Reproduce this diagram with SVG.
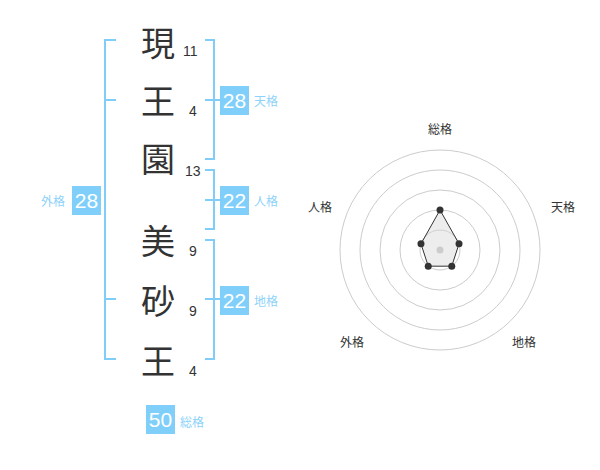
<svg xmlns="http://www.w3.org/2000/svg" width="600" height="470" viewBox="0 0 600 470">
<style>
.kanji{font-family:"Noto Sans CJK JP","Noto Sans CJK SC",sans-serif;font-size:34px;fill:#333;text-anchor:middle}
.num{font-family:"Liberation Sans",Arial,sans-serif;font-size:14px;fill:#333}
.br{fill:none;stroke:#7fcdf8;stroke-width:2}
.box{fill:#80cffb}
.bt{font-family:"Liberation Sans",Arial,sans-serif;font-size:21px;fill:#fff;text-anchor:middle}
.lab{font-family:"Noto Sans CJK JP","Noto Sans CJK SC",sans-serif;font-size:12px;fill:#8dd2fa}
.rl{font-family:"Noto Sans CJK JP","Noto Sans CJK SC",sans-serif;font-size:12px;fill:#333;text-anchor:middle}
.ring{fill:none;stroke:#ccc;stroke-width:1}
</style>
<g id="chars">
<g id="c1"><text class="kanji" x="158" y="56">現</text><text class="num" x="183" y="56">11</text></g>
<g id="c2"><text class="kanji" x="158" y="114">王</text><text class="num" x="189" y="116">4</text></g>
<g id="c3"><text class="kanji" x="158" y="172">園</text><text class="num" x="185" y="176">13</text></g>
<g id="c4"><text class="kanji" x="158" y="254">美</text><text class="num" x="189" y="256">9</text></g>
<g id="c5"><text class="kanji" x="158" y="314">砂</text><text class="num" x="189" y="316">9</text></g>
<g id="c6"><text class="kanji" x="158" y="374">王</text><text class="num" x="189" y="376">4</text></g>
</g>
<g id="connectors">
<path class="br" d="M116,40 H105 V359 H116 M105,100 H116 M105,299 H116"/>
<path class="br" d="M205,40 H214 V159 H205 M205,100 H220"/>
<path class="br" d="M205,170 H214 V229 H205 M205,200 H220"/>
<path class="br" d="M205,240 H214 V359 H205 M205,299 H220"/>
</g>
<g id="tenkaku"><rect class="box" x="220" y="86" width="29" height="29"/><text class="bt" x="234.5" y="108">28</text><text class="lab" x="254" y="106">天格</text></g>
<g id="jinkaku"><rect class="box" x="220" y="186" width="29" height="29"/><text class="bt" x="234.5" y="208">22</text><text class="lab" x="254" y="206">人格</text></g>
<g id="chikaku"><rect class="box" x="220" y="286" width="29" height="29"/><text class="bt" x="234.5" y="308">22</text><text class="lab" x="254" y="306">地格</text></g>
<g id="gaikaku"><rect class="box" x="72" y="186" width="29" height="29"/><text class="bt" x="86.5" y="208">28</text><text class="lab" x="41" y="206">外格</text></g>
<g id="soukaku"><rect class="box" x="146" y="405" width="29" height="29"/><text class="bt" x="160.5" y="427">50</text><text class="lab" x="180" y="427">総格</text></g>
<g id="radar">
<circle class="ring" cx="440" cy="250" r="100"/>
<circle class="ring" cx="440" cy="250" r="80"/>
<circle class="ring" cx="440" cy="250" r="60"/>
<circle class="ring" cx="440" cy="250" r="40"/>
<circle class="ring" cx="440" cy="250" r="20"/>
<polygon points="440,210 459.02,243.82 451.76,266.18 428.24,266.18 420.98,243.82" fill="#d8d8d8" fill-opacity="0.45" stroke="#333" stroke-width="1"/>
<circle cx="440" cy="250" r="3.5" fill="#ccc"/>
<g fill="#333">
<circle cx="440" cy="210" r="3.5"/><circle cx="459.02" cy="243.82" r="3.5"/><circle cx="451.76" cy="266.18" r="3.5"/><circle cx="428.24" cy="266.18" r="3.5"/><circle cx="420.98" cy="243.82" r="3.5"/>
</g>
<text class="rl" x="440" y="134">総格</text>
<text class="rl" x="563" y="212">天格</text>
<text class="rl" x="320" y="212">人格</text>
<text class="rl" x="352" y="347">外格</text>
<text class="rl" x="524" y="347">地格</text>
</g>
</svg>
